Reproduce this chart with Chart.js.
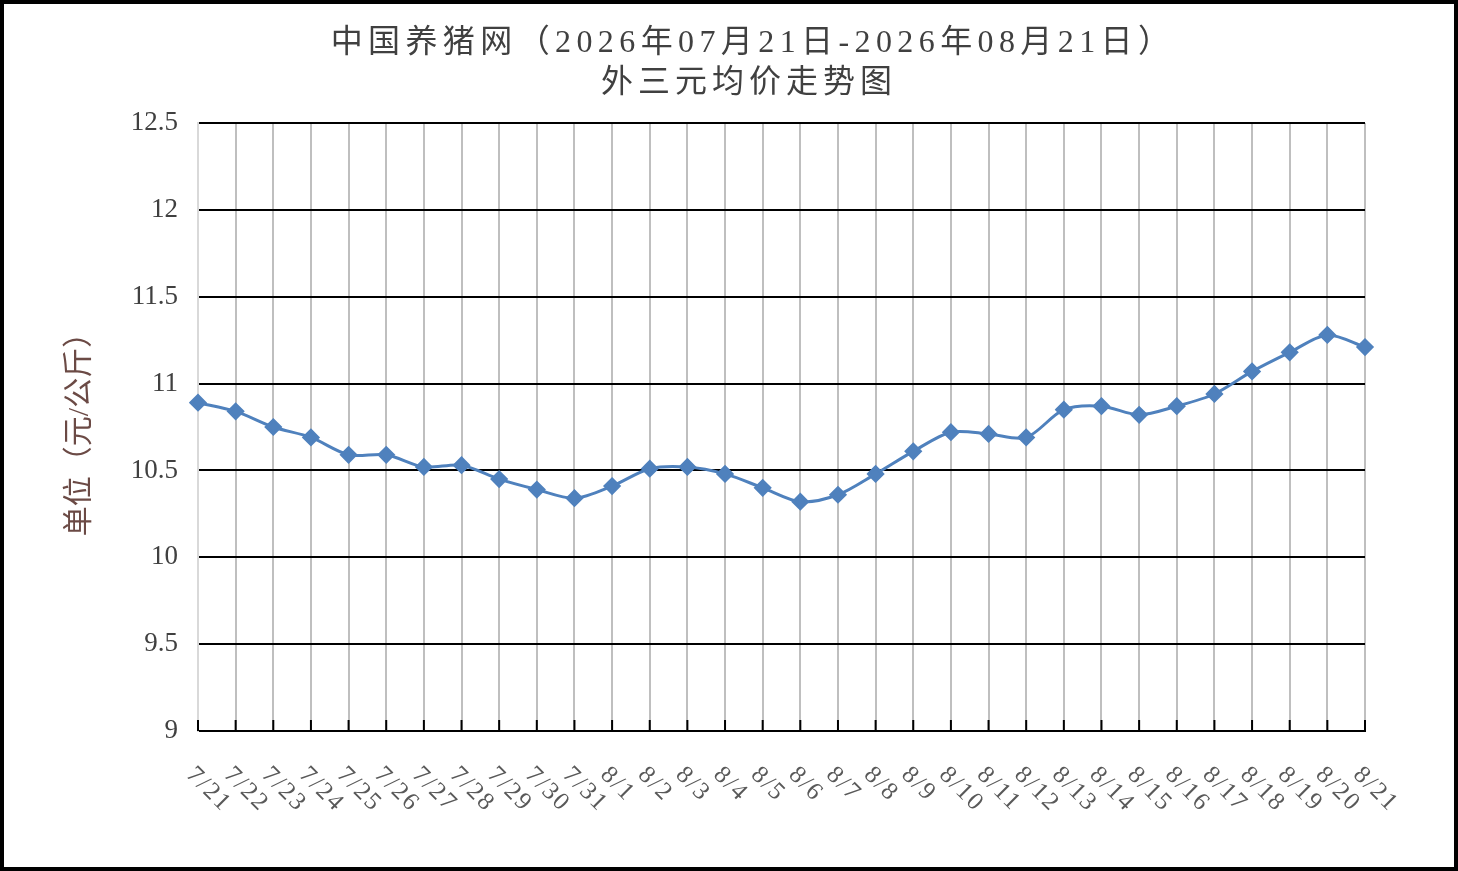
<!DOCTYPE html>
<html>
<head>
<meta charset="utf-8">
<title>外三元均价走势图</title>
<script src="https://cdn.jsdelivr.net/npm/chart.js@4/dist/chart.umd.min.js"></script>
<style>
	html, body { margin: 0; padding: 0; background: #fff; }
	#wrap { width: 1458px; height: 871px; position: relative; }
</style>
</head>
<body>
<div id="wrap"><canvas id="priceChart"></canvas></div>
<script>
	// 日期
	const dateLabels = ['7/21', '7/22', '7/23', '7/24', '7/25', '7/26', '7/27', '7/28', '7/29', '7/30', '7/31',
		'8/1', '8/2', '8/3', '8/4', '8/5', '8/6', '8/7', '8/8', '8/9', '8/10', '8/11', '8/12', '8/13',
		'8/14', '8/15', '8/16', '8/17', '8/18', '8/19', '8/20', '8/21'];
	// 外三元均价（元/公斤）
	const priceValues = [10.89, 10.84, 10.75, 10.69, 10.59, 10.59, 10.52, 10.53, 10.45, 10.39, 10.34,
		10.41, 10.51, 10.52, 10.48, 10.40, 10.32, 10.36, 10.48, 10.61, 10.72, 10.71, 10.69, 10.85,
		10.87, 10.82, 10.87, 10.94, 11.07, 11.18, 11.28, 11.21];
	// 纵轴刻度
	const yMin = 9;
	const yMax = 12.5;
	const yStep = 0.5;
	// 标题
	const titleLines = ['中国养猪网（2026年07月21日-2026年08月21日）', '外三元均价走势图'];
	const yAxisTitle = '单位（元/公斤）';

	const serifFont = '"Liberation Serif", "Noto Sans CJK SC", serif';

	// 标题、旋转的横轴标签、内侧刻度和外框
	const decorPlugin = {
		id: 'decor',
		afterDraw(chart) {
			const ctx = chart.ctx;
			const xScale = chart.scales.x;
			const bottom = chart.chartArea.bottom;

			ctx.save();
			// 横轴内侧刻度
			ctx.strokeStyle = '#000';
			ctx.lineWidth = 2;
			xScale.ticks.forEach(function(t, i) {
				let x = xScale.getPixelForTick(i);
				ctx.beginPath();
				ctx.moveTo(x, bottom);
				ctx.lineTo(x, bottom - 11);
				ctx.stroke();
			});

			// 横轴标签，顺时针 45 度
			ctx.fillStyle = '#595959';
			ctx.font = '25px ' + serifFont;
			ctx.textAlign = 'left';
			ctx.textBaseline = 'middle';
			ctx.letterSpacing = '2px';
			dateLabels.forEach(function(label, i) {
				let x = xScale.getPixelForValue(i);
				ctx.save();
				ctx.translate(x - 8, bottom + 40);
				ctx.rotate(Math.PI / 4);
				ctx.fillText(label, 0, 0);
				ctx.restore();
			});

			// 标题
			ctx.fillStyle = '#404040';
			ctx.font = '32px ' + serifFont;
			ctx.textAlign = 'center';
			ctx.textBaseline = 'middle';
			ctx.letterSpacing = '5.4px';
			ctx.fillText(titleLines[0], 753, 44);
			ctx.letterSpacing = '5px';
			ctx.fillText(titleLines[1], 749, 84);
			ctx.letterSpacing = '0px';

			// 外框
			ctx.strokeStyle = '#000';
			ctx.lineWidth = 4;
			ctx.strokeRect(2, 2, chart.width - 4, chart.height - 4);
			ctx.restore();
		}
	};

	const ctx = document.getElementById('priceChart').getContext('2d');
	const priceChart = new Chart(ctx, {
		type: 'line',
		data: {
			labels: dateLabels,
			datasets: [{
				label: '外三元均价',
				data: priceValues,
				borderColor: '#4f81bd',
				backgroundColor: '#4f81bd',
				borderWidth: 3,
				tension: 0.3,
				pointStyle: 'rectRot',
				pointRadius: 7,
				pointHoverRadius: 7,
				clip: false
			}]
		},
		options: {
			responsive: true,
			maintainAspectRatio: false,
			animation: false,
			layout: {
				padding: { left: 0, right: 93, top: 123, bottom: 0 }
			},
			plugins: {
				legend: { display: false },
				title: { display: false },
				tooltip: { enabled: false }
			},
			scales: {
				x: {
					offset: false,
					ticks: { display: false },
					grid: {
						color: function(c) { return c.index === 0 ? '#d9d9d9' : '#bfbfbf'; },
						lineWidth: 2,
						drawTicks: false
					},
					border: { color: '#000', width: 2 },
					afterFit: function(scale) { scale.height = 140; }
				},
				y: {
					min: yMin,
					max: yMax,
					ticks: {
						stepSize: yStep,
						padding: 20,
						color: '#404040',
						font: { family: serifFont, size: 27 },
						callback: function(value) { return String(Number(value)); }
					},
					grid: {
						color: '#000',
						lineWidth: 2,
						drawTicks: false
					},
					border: { color: '#d9d9d9', width: 2 },
					title: {
						display: true,
						text: yAxisTitle,
						color: '#6b4a45',
						font: { family: serifFont, size: 30 },
						padding: { top: 62, bottom: 0 }
					},
					afterFit: function(scale) { scale.width = 198; }
				}
			}
		},
		plugins: [decorPlugin]
	});
</script>
</body>
</html>
